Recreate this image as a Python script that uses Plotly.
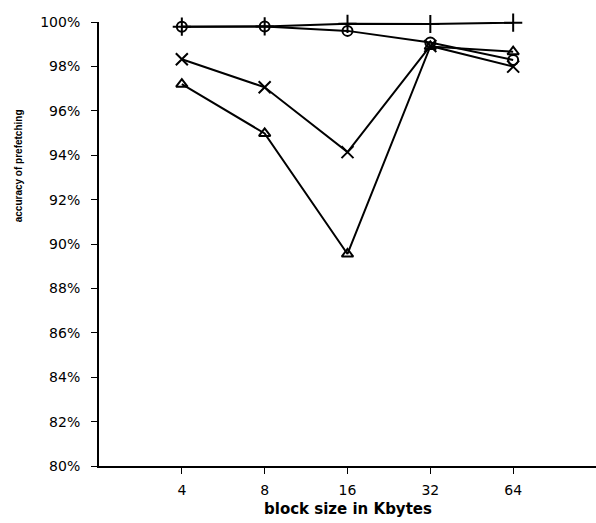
import plotly.graph_objects as go

block_sizes = ["4", "8", "16", "32", "64"]
series_plus = [99.79, 99.80, 99.92, 99.91, 99.97]
series_circle = [99.79, 99.80, 99.60, 99.08, 98.29]
series_x = [98.32, 97.06, 94.14, 98.92, 97.99]
series_triangle = [97.20, 94.98, 89.55, 98.90, 98.66]
y_ticks = [80, 82, 84, 86, 88, 90, 92, 94, 96, 98, 100]
y_tick_labels = [f"{v}%" for v in y_ticks]

fig = go.Figure()
specs = [
    (series_plus, "cross-thin-open", 13),
    (series_circle, "circle-open", 10),
    (series_x, "x-thin-open", 12),
    (series_triangle, "triangle-up-open", 10),
]
for vals, sym, sz in specs:
    fig.add_trace(go.Scatter(
        x=block_sizes, y=vals, mode="lines+markers",
        line=dict(color="black", width=2),
        marker=dict(symbol=sym, size=sz, color="black", line=dict(color="black", width=2)),
        cliponaxis=False, showlegend=False,
    ))

fig.update_layout(
    width=596, height=523,
    margin=dict(l=99, r=0, t=22, b=57),
    paper_bgcolor="white", plot_bgcolor="white",
    font=dict(family="DejaVu Sans, Arial, sans-serif", size=14, color="black"),
    xaxis=dict(
        type="category", range=[-1, 5],
        showgrid=False, zeroline=False,
        showline=True, linecolor="black", linewidth=2,
        ticks="outside", ticklen=6, tickwidth=1, tickcolor="black",
        tickfont=dict(size=14), ticklabelstandoff=4,
    ),
    yaxis=dict(
        range=[80, 100],
        tickvals=y_ticks, ticktext=y_tick_labels,
        showgrid=False, zeroline=False,
        showline=True, linecolor="black", linewidth=2,
        ticks="outside", ticklen=6, tickwidth=1, tickcolor="black",
        tickfont=dict(size=14), ticklabelstandoff=8,
    ),
    annotations=[
        dict(text="<b>block size in Kbytes</b>", xref="paper", yref="paper",
             x=0.5, y=0, xanchor="center", yanchor="middle", yshift=-43,
             showarrow=False, font=dict(size=15)),
        dict(text="<b>accuracy of prefetching</b>", xref="paper", yref="paper",
             x=0, xshift=-81, y=0.675, xanchor="center", yanchor="middle",
             textangle=-90, showarrow=False,
             font=dict(family="Liberation Sans, Arial, sans-serif", size=10)),
    ],
)

fig.write_html("out.html")
